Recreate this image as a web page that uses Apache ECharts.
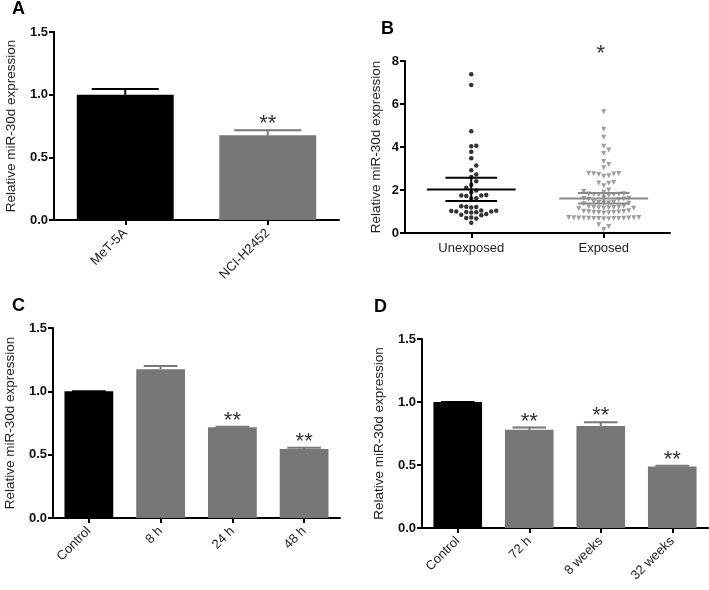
<!DOCTYPE html>
<html>
<head>
<meta charset="utf-8">
<script src="https://cdn.jsdelivr.net/npm/echarts@6/dist/echarts.min.js"></script>
<style>html,body{margin:0;padding:0;background:#fff}#c{width:709px;height:590px}</style>
</head>
<body>
<div id="c"></div>
<script>
// ---------- DATA ----------
const yAxisName = 'Relative miR-30d expression';
const panelLetters = ['A', 'B', 'C', 'D'];

const catA = ['MeT-5A', 'NCI-H2452'];
const valA = [1.0, 0.677];
const errA = [1.045, 0.717];
const sigA = ['', '**'];

const catB = ['Unexposed', 'Exposed'];
const unexposed = [7.38, 6.88, 4.73, 4.06, 4.04, 3.78, 3.48, 3.14, 2.92, 2.72, 2.6, 2.41, 2.25, 2.1, 1.98, 1.9,
  1.77, 1.75, 1.74, 1.72, 1.62, 1.6, 1.24, 1.22, 1.21, 1.19, 1.05, 1.03, 1.02, 1.0, 1.0, 0.98, 0.97, 0.95,
  0.88, 0.85, 0.82, 0.72, 0.7, 0.68, 0.48];
const exposed = [5.64, 4.83, 4.45, 4.04, 3.86, 3.70, 3.33, 3.19, 3.03,
  2.78, 2.77, 2.76, 2.75, 2.72, 2.66, 2.64,
  2.35, 2.33, 2.31, 2.2,
  2.0, 1.93, 1.9,
  1.82, 1.81, 1.8, 1.79, 1.78, 1.77, 1.76,
  1.64, 1.62, 1.6, 1.58, 1.57, 1.55,
  1.45, 1.43, 1.42, 1.41, 1.4, 1.38, 1.36,
  1.24, 1.22, 1.21, 1.2, 1.19, 1.18, 1.17, 1.16, 1.15, 1.14,
  1.03, 1.01, 1.0, 0.99, 0.98, 0.97, 0.96, 0.95, 0.94, 0.93,
  0.72, 0.72, 0.71, 0.71, 0.7, 0.7, 0.7, 0.69, 0.69, 0.68, 0.68, 0.67, 0.67, 0.66, 0.66,
  0.38, 0.3, 0.16];
// [mean, lower, upper]
const statsUnexposed = [2.02, 1.49, 2.57];
const statsExposed = [1.60, 1.37, 1.86];
const sigB = ['', '*'];

const catC = ['Control', '8 h', '24 h', '48 h'];
const valC = [1.0, 1.175, 0.716, 0.545];
const errC = [1.0, 1.20, 0.72, 0.555];
const sigC = ['', '', '**', '**'];

const catD = ['Control', '72 h', '8 weeks', '32 weeks'];
const valD = [1.0, 0.779, 0.81, 0.488];
const errD = [1.0, 0.797, 0.84, 0.495];
const sigD = ['', '**', '**', '**'];

const ticks15 = [0, 1.5, 0.5];
const ticks8 = [0, 8, 2];

// ---------- STYLE / LAYOUT ----------
const FONT = 'Liberation Sans, Arial, sans-serif';
const BLACK = '#000000';
const GRAY = '#777777';
const MARKGRAY = '#858585';
const grids = [
  { left: 54, top: 32, width: 285, height: 188 },
  { left: 405, top: 61, width: 265, height: 172 },
  { left: 53, top: 328, width: 287, height: 190 },
  { left: 422, top: 339, width: 286, height: 189 }
];
const nameGaps = [36, 22, 36, 36];

function yAxisOf(gi, t) {
  return {
    type: 'value', gridIndex: gi, min: t[0], max: t[1], interval: t[2],
    name: yAxisName, nameLocation: 'middle', nameGap: nameGaps[gi],
    nameTextStyle: { fontFamily: FONT, fontSize: 13.5, color: '#222' },
    axisLine: { show: true, lineStyle: { color: BLACK, width: 2 } },
    axisTick: { show: true, length: 5, lineStyle: { color: BLACK, width: 2 } },
    axisLabel: { fontFamily: FONT, fontSize: 13, fontWeight: 'bold', color: '#111', margin: 6,
      formatter: v => t[1] > 2 ? String(v) : v.toFixed(1) },
    splitLine: { show: false }
  };
}
function xCatOf(gi, cats, rot) {
  return {
    type: 'category', gridIndex: gi, data: cats,
    axisLine: { lineStyle: { color: BLACK, width: 2 } },
    axisTick: { show: true, alignWithLabel: true, length: 5, lineStyle: { color: BLACK, width: 2 } },
    axisLabel: { rotate: rot, fontFamily: FONT, fontSize: 13, color: '#222', margin: rot ? 11 : 9, interval: 0 }
  };
}
function colorsFor(n) { return Array.from({ length: n }, (_, i) => i === 0 ? BLACK : GRAY); }

function barSeries(gi, vals) {
  const cols = colorsFor(vals.length);
  return {
    type: 'bar', xAxisIndex: gi, yAxisIndex: gi, barWidth: '68%', silent: true,
    data: vals.map((v, i) => ({ value: v, itemStyle: { color: cols[i] } })),
    z: 2
  };
}
function errSeries(gi, vals, errs, sig) {
  const cols = colorsFor(vals.length);
  return {
    type: 'custom', xAxisIndex: gi, yAxisIndex: gi, silent: true, z: 3,
    data: vals.map((v, i) => [i, v, errs[i]]),
    renderItem: function (params, api) {
      const i = params.dataIndex;
      const p0 = api.coord([api.value(0), api.value(1)]);
      const p1 = api.coord([api.value(0), api.value(2)]);
      const hw = api.size([1, 0])[0] * 0.235;
      const col = cols[i];
      const ch = [];
      if (p0[1] - p1[1] > 0.5) {
        ch.push({ type: 'line', shape: { x1: p0[0], y1: p0[1], x2: p1[0], y2: p1[1] }, style: { stroke: col, lineWidth: 2 } });
      }
      ch.push({ type: 'line', shape: { x1: p1[0] - hw, y1: p1[1], x2: p1[0] + hw, y2: p1[1] }, style: { stroke: col, lineWidth: 2 } });
      if (sig[i]) {
        ch.push({ type: 'text', style: { text: sig[i], x: p1[0], y: p1[1] - 6, align: 'center', verticalAlign: 'middle',
          font: '22px ' + FONT, fill: '#333' } });
      }
      return { type: 'group', children: ch };
    }
  };
}

// beeswarm placement (layout only): offsets in pixels, then converted to axis units
function swarm(values, centre, pxPerX, pxPerY, step, dist) {
  const sorted = values.slice().sort((a, b) => a - b);
  const placed = [];
  const out = [];
  for (const v of sorted) {
    const y = v * pxPerY;
    for (let k = 0; k < 200; k++) {
      const m = k === 0 ? 0 : (k % 2 === 1 ? (k + 1) / 2 : -k / 2);
      const x = m * step;
      let ok = true;
      for (const p of placed) {
        const dx = p[0] - x, dy = p[1] - y;
        if (dx * dx + dy * dy < dist * dist) { ok = false; break; }
      }
      if (ok) { placed.push([x, y]); out.push([centre + x / pxPerX, v]); break; }
    }
  }
  return out;
}
const pxPerXB = grids[1].width / 4;
const pxPerYB = grids[1].height / ticks8[1];
const swarmU = swarm(unexposed, 1, pxPerXB, pxPerYB, 5, 4.8);
const swarmE = swarm(exposed, 3, pxPerXB, pxPerYB, 5, 4.8);

function statSeries() {
  const stats = [statsUnexposed, statsExposed];
  const cols = [BLACK, '#8a8a8a'];
  return {
    type: 'custom', xAxisIndex: 4, yAxisIndex: 1, silent: true, z: 5, clip: false,
    data: stats.map((s, i) => [1 + 2 * i, s[0], s[1], s[2]]),
    renderItem: function (params, api) {
      const i = params.dataIndex;
      const x = api.value(0);
      const unit = api.size([1, 0])[0];
      const pm = api.coord([x, api.value(1)]);
      const pl = api.coord([x, api.value(2)]);
      const pu = api.coord([x, api.value(3)]);
      const mh = unit * 0.67, ch = unit * 0.39;
      const st = { stroke: cols[i], lineWidth: 2 };
      const kids = [
        { type: 'line', shape: { x1: pm[0] - mh, y1: pm[1], x2: pm[0] + mh, y2: pm[1] }, style: st },
        { type: 'line', shape: { x1: pu[0] - ch, y1: pu[1], x2: pu[0] + ch, y2: pu[1] }, style: st },
        { type: 'line', shape: { x1: pl[0] - ch, y1: pl[1], x2: pl[0] + ch, y2: pl[1] }, style: st },
        { type: 'line', shape: { x1: pu[0], y1: pu[1], x2: pl[0], y2: pl[1] }, style: st }
      ];
      if (sigB[i]) {
        const top = api.coord([x, ticks8[1]]);
        kids.push({ type: 'text', style: { text: sigB[i], x: top[0] - 3, y: top[1] - 7, align: 'center', verticalAlign: 'middle',
          font: '22px ' + FONT, fill: '#333' } });
      }
      return { type: 'group', children: kids };
    }
  };
}

const option = {
  animation: false,
  backgroundColor: '#fff',
  title: [
    { text: panelLetters[0], left: 12, top: 0 },
    { text: panelLetters[1], left: 381, top: 20 },
    { text: panelLetters[2], left: 12, top: 297 },
    { text: panelLetters[3], left: 374, top: 298 }
  ].map(t => Object.assign(t, { padding: 0, textStyle: { fontFamily: FONT, fontSize: 18, fontWeight: 'bold', color: '#000' } })),
  grid: grids.map(g => Object.assign({ containLabel: false }, g)),
  xAxis: [
    xCatOf(0, catA, 45),
    xCatOf(1, catB, 0),
    xCatOf(2, catC, 45),
    xCatOf(3, catD, 45),
    { type: 'value', gridIndex: 1, min: 0, max: 4, show: false }
  ],
  yAxis: [yAxisOf(0, ticks15), yAxisOf(1, ticks8), yAxisOf(2, ticks15), yAxisOf(3, ticks15)],
  series: [
    barSeries(0, valA), errSeries(0, valA, errA, sigA),
    barSeries(2, valC), errSeries(2, valC, errC, sigC),
    barSeries(3, valD), errSeries(3, valD, errD, sigD),
    { type: 'scatter', xAxisIndex: 4, yAxisIndex: 1, data: swarmU, symbol: 'circle', symbolSize: 4.5,
      itemStyle: { color: BLACK }, silent: true, z: 4 },
    { type: 'scatter', xAxisIndex: 4, yAxisIndex: 1, data: swarmE, symbol: 'triangle', symbolRotate: 180, symbolSize: 5,
      itemStyle: { color: MARKGRAY }, silent: true, z: 4 },
    statSeries()
  ]
};
const chart = echarts.init(document.getElementById('c'), null, { renderer: 'canvas' });
chart.setOption(option);
</script>
</body>
</html>
